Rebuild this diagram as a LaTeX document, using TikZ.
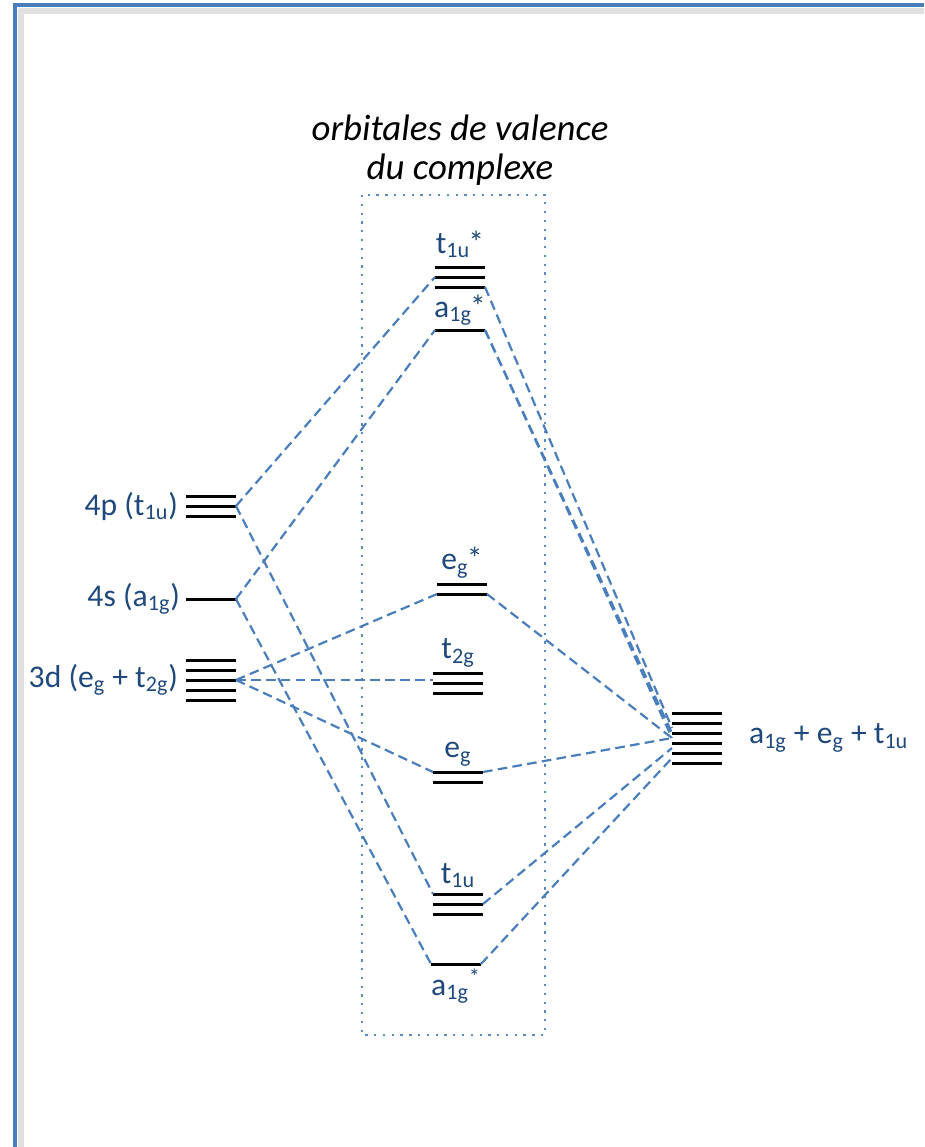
\documentclass[tikz,border=0pt]{standalone}
\usepackage{fontspec}
\setmainfont{Carlito}
\usetikzlibrary{positioning}

\definecolor{txtblue}{HTML}{1F497D}
\definecolor{lnblue}{HTML}{4A7EBB}
\newcommand{\px}{0.02cm}

% name, centre x, y of top bar, number of bars
\newcommand{\orbset}[4]{%
  \node[lvlbox, minimum height={(#4-1)*10*\px}, anchor=north] (#1) at (#2,#3) {};
  \foreach \k in {1,...,#4}
    \draw[bar] ([yshift={-(\k-1)*10*\px}]#1.north west) -- ([yshift={-(\k-1)*10*\px}]#1.north east);
}

\begin{document}
\begin{tikzpicture}[
  x = 0.02cm, y = -0.02cm,
  bar/.style = {line width=1.7pt, black},
  lvlbox/.style = {inner sep=0pt, outer sep=0pt, minimum width=50*\px},
  link/.style = {lnblue, line width=1.25pt, dash pattern=on 5.5pt off 3pt},
  lab/.style = {txtblue, inner sep=1pt, font=\fontsize{18}{21}\selectfont},
  title/.style = {align=center, font=\itshape\fontsize{21}{22.5}\selectfont},
  boxline/.style = {lnblue!90, line width=1.3pt, dash pattern=on 1.3pt off 3.7pt}
  ]
  \useasboundingbox (0,0) rectangle (924,1147);
  % page frame
  \draw[black!12, line width=3pt] (19,11) -- (924,11);
  \draw[black!12, line width=3pt] (21,9) -- (21,1147);
  \draw[lnblue, line width=1.8pt] (15,1147) -- (15,5) -- (924,5);

  \node[title] (ttl) at (460,150) {orbitales de valence\\du complexe};
  \draw[boxline] (362,195) rectangle (545,1035);

  % metal
  \orbset{p4}{211}{496}{3}
  \orbset{s4}{211}{599}{1}
  \orbset{d3}{211}{660}{5}
  \node[lab, left=0.12cm of p4] (p4l) {4p (t\textsubscript{1u})};
  \node[lab, left=0.08cm of s4] (s4l) {4s (a\textsubscript{1g})};
  \node[lab, left=0.12cm of d3] (d3l) {3d (e\textsubscript{g} + t\textsubscript{2g})};

  % complex
  \orbset{t1us}{460}{267}{3}
  \orbset{a1gs}{460}{330}{1}
  \orbset{egs}{462}{584}{2}
  \orbset{t2g}{458}{673}{3}
  \orbset{eg}{458}{772}{2}
  \orbset{t1u}{458}{894}{3}
  \orbset{a1g}{456}{964}{1}
  \node[lab, above=0.14cm of t1us] (t1usl) {t\textsubscript{1u}\kern-1pt*};
  \node[lab, above=0.05cm of a1gs] (a1gsl) {a\textsubscript{1g}\kern-1pt*};
  \node[lab, above=0.08cm of egs] (egsl) {e\textsubscript{g}\kern-1pt*};
  \node[lab, above=0.08cm of t2g] (t2gl) {t\textsubscript{2g}};
  \node[lab, above=0.08cm of eg] (egl) {e\textsubscript{g}};
  \node[lab, above=0.08cm of t1u] (t1ul) {t\textsubscript{1u}};
  \node[lab, below=0.05cm of a1g] (a1gl) {a\textsubscript{1g}\textsuperscript{*}};

  % ligands
  \orbset{lig}{697}{713}{6}
  \node[lab, right=0.5cm of lig] (ligl) {a\textsubscript{1g} + e\textsubscript{g} + t\textsubscript{1u}};

  % left correlations
  \draw[link] (p4.east) -- (t1us.west);
  \draw[link] (p4.east) -- (t1u.north west);
  \draw[link] (s4.east) -- (a1gs.west);
  \draw[link] (s4.east) -- (a1g.west);
  \draw[link] (d3.east) -- (egs.south west);
  \draw[link] (d3.east) -- (d3.east -| t2g.west);
  \draw[link] (d3.east) -- (eg.north west);
  % right correlations
  \draw[link] (t1us.south east) -- ([yshift=0.2cm]lig.west);
  \draw[link] (a1gs.east) -- ([yshift=0.1cm]lig.west);
  \draw[link] (a1gs.east) -- (lig.west);
  \draw[link] (egs.south east) -- (lig.west);
  \draw[link] (eg.north east) -- (lig.west);
  \draw[link] (t1u.east) -- ([yshift=-0.2cm]lig.west);
  \draw[link] (a1g.east) -- ([yshift=-0.4cm]lig.west);
\end{tikzpicture}
\end{document}
